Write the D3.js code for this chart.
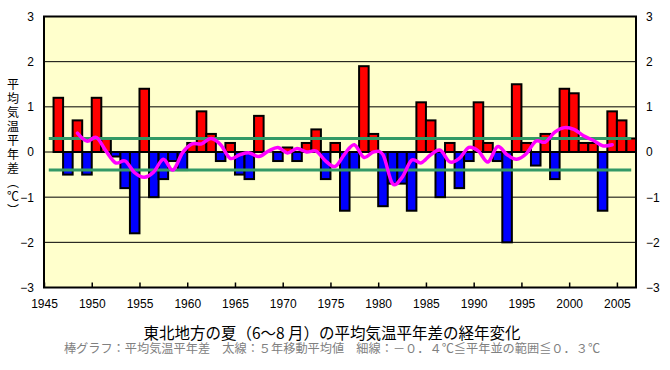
<!DOCTYPE html>
<html>
<head>
<meta charset="utf-8">
<script src="https://cdn.jsdelivr.net/npm/d3@7"></script>
<style>
  body { margin: 0; background: #fff; }
  svg { display: block; }
</style>
</head>
<body>
<div id="chart"></div>
<script>
// years on the category axis (1945 has no value)
var years = [1945, 1946, 1947, 1948, 1949, 1950, 1951, 1952, 1953, 1954,
  1955, 1956, 1957, 1958, 1959, 1960, 1961, 1962, 1963, 1964,
  1965, 1966, 1967, 1968, 1969, 1970, 1971, 1972, 1973, 1974,
  1975, 1976, 1977, 1978, 1979, 1980, 1981, 1982, 1983, 1984,
  1985, 1986, 1987, 1988, 1989, 1990, 1991, 1992, 1993, 1994,
  1995, 1996, 1997, 1998, 1999, 2000, 2001, 2002, 2003, 2004,
  2005, 2006];

// summer mean temperature anomaly (deg C)
var anomaly = [null, 1.2, -0.5, 0.7, -0.5, 1.2, 0.3, -0.1, -0.8, -1.8,
  1.4, -1.0, -0.6, -0.2, -0.4, 0.2, 0.9, 0.4, -0.2, 0.2,
  -0.5, -0.6, 0.8, 0.0, -0.2, 0.1, -0.2, 0.2, 0.5, -0.6,
  0.2, -1.3, -0.4, 1.9, 0.4, -1.2, -0.7, -0.7, -1.3, 1.1,
  0.7, -1.0, 0.2, -0.8, -0.2, 1.1, 0.2, -0.2, -2.0, 1.5,
  0.2, -0.3, 0.4, -0.6, 1.4, 1.3, 0.2, 0.2, -1.3, 0.9,
  0.7, 0.3];

// 5-year running mean, 1948 .. 2004
var avgYears = [1948, 1949, 1950, 1951, 1952, 1953, 1954, 1955, 1956, 1957,
  1958, 1959, 1960, 1961, 1962, 1963, 1964, 1965, 1966, 1967,
  1968, 1969, 1970, 1971, 1972, 1973, 1974, 1975, 1976, 1977,
  1978, 1979, 1980, 1981, 1982, 1983, 1984, 1985, 1986, 1987,
  1988, 1989, 1990, 1991, 1992, 1993, 1994, 1995, 1996, 1997,
  1998, 1999, 2000, 2001, 2002, 2003, 2004];
var runningMean = [0.42, 0.24, 0.32, 0.02, -0.24, -0.20, -0.46, -0.56, -0.44, -0.16,
  -0.40, -0.02, 0.18, 0.18, 0.30, 0.16, -0.14, -0.06, -0.02, -0.10,
  0.02, 0.10, -0.02, 0.08, 0.00, 0.02, -0.20, -0.32, -0.04, 0.16,
  -0.12, 0.00, -0.06, -0.70, -0.56, -0.18, -0.24, -0.06, 0.04, -0.22,
  -0.14, 0.10, 0.02, -0.22, 0.12, -0.06, -0.16, -0.04, 0.24, 0.22,
  0.44, 0.54, 0.50, 0.36, 0.26, 0.14, 0.16];

// normal range limits
var normalLimits = [0.3, -0.4];

var yTicks = [-3, -2, -1, 0, 1, 2, 3];
var gridValues = [-2, -1, 0, 1, 2];
var xTickYears = [1945, 1950, 1955, 1960, 1965, 1970, 1975, 1980, 1985, 1990, 1995, 2000, 2005];

var svgWidth = 670;
var svgHeight = 370;
var margin = { top: 16.5, right: 34, bottom: 82.5, left: 44 };
var width = svgWidth - margin.left - margin.right;
var height = svgHeight - margin.top - margin.bottom;

var svg = d3.select("#chart")
  .append("svg")
  .attr("width", svgWidth)
  .attr("height", svgHeight);

var chartGroup = svg.append("g")
  .attr("transform", `translate(${margin.left}, ${margin.top})`);

var x = d3.scaleBand().domain(years).range([0, width]).padding(0);
var xEdge = d3.scaleLinear().domain([1945, 2007]).range([0, width]);
var y = d3.scaleLinear().domain([-3, 3]).range([height, 0]);
var bw = x.bandwidth();

// plot background
chartGroup.append("rect")
  .attr("width", width)
  .attr("height", height)
  .attr("fill", "#ffffcc");

// grid lines
chartGroup.append("g")
  .selectAll("line")
  .data(gridValues)
  .enter()
  .append("line")
  .attr("x1", 0)
  .attr("x2", width)
  .attr("y1", d => y(d))
  .attr("y2", d => y(d))
  .attr("stroke", "#000")
  .attr("stroke-width", 1);

// bars
var barData = years.map((yr, i) => ({ year: yr, value: anomaly[i] }))
  .filter(d => d.value !== null);

chartGroup.append("g")
  .selectAll("rect")
  .data(barData)
  .enter()
  .append("rect")
  .attr("x", d => x(d.year))
  .attr("width", bw)
  .attr("y", d => y(Math.max(0, d.value)))
  .attr("height", d => Math.abs(y(d.value) - y(0)))
  .attr("fill", d => d.value >= 0 ? "#ff0000" : "#0000ff")
  .attr("stroke", "#000")
  .attr("stroke-width", 2);

// normal range lines
chartGroup.append("g")
  .selectAll("line")
  .data(normalLimits)
  .enter()
  .append("line")
  .attr("x1", x(1945) + bw / 2)
  .attr("x2", x(2006) + bw / 2)
  .attr("y1", d => y(d))
  .attr("y2", d => y(d))
  .attr("stroke", "#339966")
  .attr("stroke-width", 3);

// running mean
var meanLine = d3.line()
  .x((d, i) => x(avgYears[i]) + bw / 2)
  .y(d => y(d))
  .curve(d3.curveCatmullRom.alpha(0));

chartGroup.append("path")
  .datum(runningMean)
  .attr("d", meanLine)
  .attr("fill", "none")
  .attr("stroke", "#ff00ff")
  .attr("stroke-width", 3.5)
  .attr("stroke-linejoin", "round")
  .attr("stroke-linecap", "round");

// plot border
chartGroup.append("rect")
  .attr("width", width)
  .attr("height", height)
  .attr("fill", "none")
  .attr("stroke", "#000")
  .attr("stroke-width", 2);

// axes
var tickFont = "'Liberation Sans', Arial, sans-serif";
var fmtY = d => d < 0 ? "\u2212" + Math.abs(d) : String(d);

var yAxisL = d3.axisLeft(y).tickValues(yTicks).tickFormat(fmtY).tickSize(0).tickPadding(10);
var yAxisR = d3.axisRight(y).tickValues(yTicks).tickFormat(fmtY).tickSize(0).tickPadding(10);
var xAxis = d3.axisBottom(xEdge).tickValues(xTickYears)
  .tickFormat(d3.format("d")).tickSizeInner(-5).tickSizeOuter(0);

var gl = chartGroup.append("g").call(yAxisL);
var gr = chartGroup.append("g").attr("transform", `translate(${width}, 0)`).call(yAxisR);
var gx = chartGroup.append("g").attr("transform", `translate(0, ${height})`).call(xAxis);

[gl, gr, gx].forEach(function(g) {
  g.select(".domain").remove();
  g.selectAll("text")
    .attr("font-family", tickFont)
    .attr("font-size", "12px")
    .attr("fill", "#000");
});
gx.selectAll("line").attr("stroke", "#000").attr("stroke-width", 1.5);
gx.selectAll("text").attr("y", 12).attr("dy", "0.71em");

// y axis title, written vertically
svg.append("text")
  .attr("x", 13)
  .attr("y", 78)
  .attr("writing-mode", "vertical-rl")
  .attr("text-anchor", "start")
  .attr("font-family", "'Noto Sans CJK JP', sans-serif")
  .attr("font-size", "12px")
  .style("letter-spacing", "2px")
  .attr("fill", "#000")
  .text("平均気温平年差（℃）");

// titles
svg.append("text")
  .attr("x", 332)
  .attr("y", 339)
  .attr("text-anchor", "middle")
  .attr("font-family", "'Noto Sans CJK JP', sans-serif")
  .attr("font-size", "15.5px")
  .attr("fill", "#000")
  .text("東北地方の夏（6〜8 月）の平均気温平年差の経年変化");

svg.append("text")
  .attr("x", 332)
  .attr("y", 352.5)
  .attr("text-anchor", "middle")
  .attr("font-family", "'Noto Sans CJK JP', sans-serif")
  .attr("font-size", "12.2px")
  .attr("fill", "#808080")
  .text("棒グラフ：平均気温平年差　太線：５年移動平均値　細線：－０．４℃≦平年並の範囲≦０．３℃");
</script>
</body>
</html>
